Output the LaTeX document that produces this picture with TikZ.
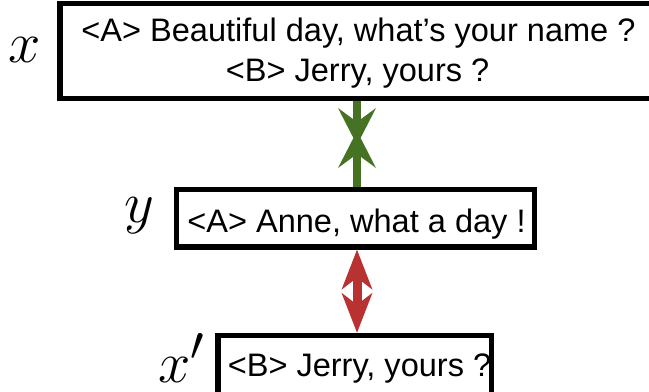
\documentclass[tikz,border=0pt]{standalone}
\usepackage[no-math]{fontspec}
\setmainfont{Liberation Sans}
\usetikzlibrary{arrows.meta}
\definecolor{arrgreen}{RGB}{70,115,35}
\definecolor{arrred}{RGB}{185,50,50}
\tikzset{
  boxnode/.style={draw=black, line width=4.1pt, fill=none, inner sep=0pt, rectangle},
  txt/.style={inner sep=0pt, anchor=base, font=\fontsize{24.4pt}{29pt}\selectfont},
  mathlabel/.style={inner sep=0pt, scale=1.75, font=\Huge},
  garrow/.style={draw=arrgreen, line width=6pt, -{Stealth[length=27.75pt, width=28.5pt, inset=10.5pt, line width=0pt]}},
  rarrow/.style={draw=arrred, line width=6.75pt, {Stealth[length=30pt, width=23.25pt, inset=9pt, line width=0pt]}-{Stealth[length=30pt, width=23.25pt, inset=9pt, line width=0pt]}}
}
\begin{document}
\begin{tikzpicture}[x=0.75pt, y=-0.75pt]
\useasboundingbox (0,0) rectangle (649,392);
\clip (0,0) rectangle (649,392);
% boxes
\node[boxnode, minimum width=444pt, minimum height=71.25pt] (xbox) at (356,51) {};
\node[boxnode, minimum width=268.5pt, minimum height=43.1pt] (ybox) at (355.5,218.25) {};
\node[boxnode, minimum width=205.1pt, minimum height=45.4pt] (xpbox) at (354.75,365.75) {};
% texts
\node[txt] (t1) at (358.5,42) {<A> Beautiful day, what’s your name ?};
\node[txt] (t2) at (357.6,82) {<B> Jerry, yours ?};
\node[txt] (t3) at (356.5,232) {<A> Anne, what a day !};
\node[txt] (t4) at (359.5,376) {<B> Jerry, yours ?};
% labels
\node[mathlabel, anchor=base] (lx) at (25,63) {$x$};
\node[mathlabel, anchor=base] (ly) at (139,222) {$y$};
\node[mathlabel, anchor=base west] (lxp) at (158,382) {$x'$};
% arrows
\coordinate (gtip1) at (357,145);
\coordinate (gtip2) at (357,131);
\coordinate (rx) at (357,290);
\draw[garrow] (xbox.south -| gtip1) -- (gtip1);
\draw[garrow] (ybox.north -| gtip2) -- (gtip2);
\draw[rarrow] (ybox.south -| rx) -- (xpbox.north -| rx);
\end{tikzpicture}
\end{document}
